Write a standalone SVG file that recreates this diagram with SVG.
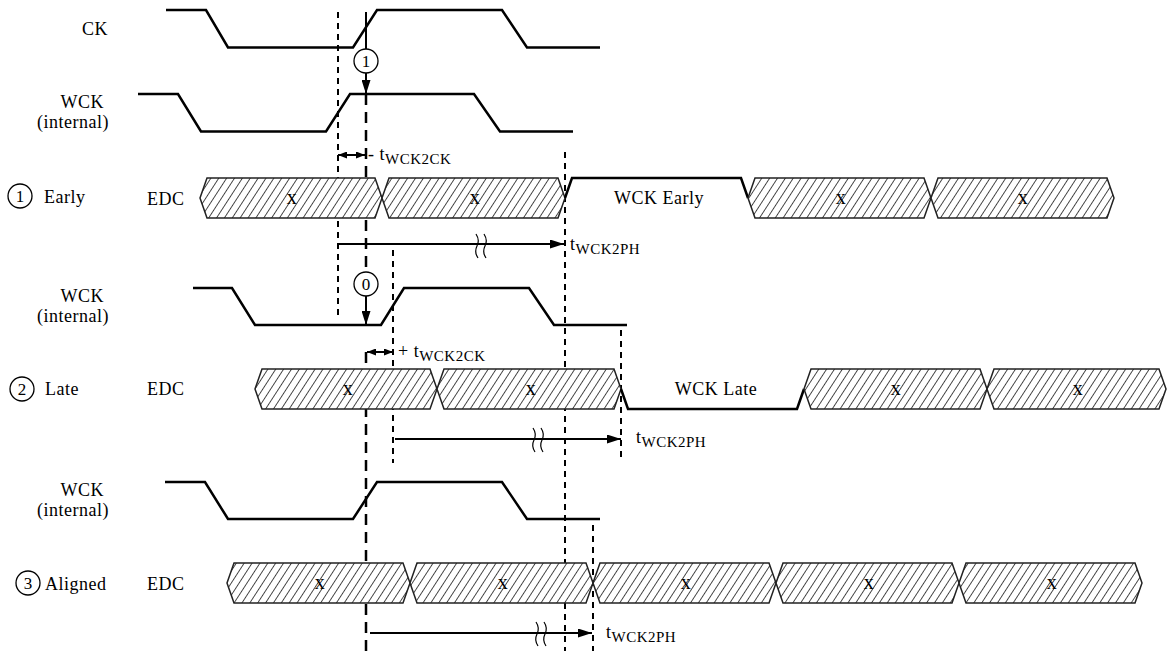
<svg xmlns="http://www.w3.org/2000/svg" width="1167" height="651" viewBox="0 0 1167 651">
<defs>
<pattern id="hatch" patternUnits="userSpaceOnUse" width="6.6" height="7" patternTransform="rotate(33)">
<rect width="6.6" height="7" fill="#fff"/>
<line x1="3.3" y1="-1" x2="3.3" y2="8" stroke="#333" stroke-width="0.9"/>
</pattern>
<marker id="ah" markerUnits="userSpaceOnUse" markerWidth="14" markerHeight="9" refX="14" refY="4.5" orient="auto">
<path d="M0,0 L14,4.5 L0,9 z" fill="#000"/>
</marker>
<marker id="sh" markerUnits="userSpaceOnUse" markerWidth="9" markerHeight="7" refX="9" refY="3.5" orient="auto-start-reverse">
<path d="M0,0 L9,3.5 L0,7 z" fill="#000"/>
</marker>
<style>
.wv{stroke:#000;stroke-width:2.5;fill:none;stroke-linejoin:miter}
.st{stroke:#000;stroke-width:2.5;fill:none}
.bus{fill:url(#hatch);stroke:#222;stroke-width:1.5}
.sd{stroke:#000;stroke-width:2;stroke-dasharray:6 5;fill:none}
.ld{stroke:#000;stroke-width:2.5;stroke-dasharray:11 7;fill:none}
.ar{stroke:#000;stroke-width:2;fill:none}
.sq{stroke:#000;stroke-width:1.2;fill:none}
.cir{fill:#fff;stroke:#000;stroke-width:1.3}
text{font-family:"Liberation Serif","Times New Roman",serif;font-size:18px;letter-spacing:0.5px;fill:#000}
.sub{font-size:15px}
.r{text-anchor:end}
.m{text-anchor:middle}
.n{font-size:17px;letter-spacing:0}
.bx{font-size:20px}
</style>
</defs>

<g id="guides">
<line class="sd" x1="338" y1="12" x2="338" y2="318"/>
<line class="ld" x1="366" y1="94" x2="366" y2="272"/>
<line class="ld" x1="366" y1="352" x2="366" y2="651"/>
<line class="sd" x1="393" y1="250" x2="393" y2="463"/>
<line class="sd" x1="565" y1="152" x2="565" y2="651"/>
<line class="sd" x1="621" y1="330" x2="621" y2="460"/>
<line class="sd" x1="593" y1="525" x2="593" y2="651"/>
</g>

<g id="labels">
<text class="r" x="108" y="35">CK</text>
<text class="r" x="104" y="108">WCK</text>
<text class="r" x="109" y="128">(internal)</text>
<text class="r" x="104" y="302">WCK</text>
<text class="r" x="109" y="322">(internal)</text>
<text class="r" x="104" y="496">WCK</text>
<text class="r" x="109" y="516">(internal)</text>
<g id="row1-label"><circle class="cir" cx="20" cy="196" r="12"/><text class="m n" x="20" y="202">1</text><text x="44" y="203">Early</text></g>
<g id="row2-label"><circle class="cir" cx="22" cy="389" r="12"/><text class="m n" x="22" y="395">2</text><text x="45" y="395">Late</text></g>
<g id="row3-label"><circle class="cir" cx="28" cy="583" r="12"/><text class="m n" x="28" y="589">3</text><text x="45" y="590">Aligned</text></g>
<text x="147" y="205">EDC</text>
<text x="147" y="395">EDC</text>
<text x="147" y="590">EDC</text>
</g>

<g id="ck"><path class="wv" d="M166,10 L206,10 L228,47.5 L353,47.5 L377,10 L502,10 L527,47.5 L600,47.5"/></g>
<g id="wck1"><path class="wv" d="M138,94 L178,94 L201,131.5 L326,131.5 L350,94 L474,94 L500,131.5 L573,131.5"/></g>
<g id="wck2"><path class="wv" d="M193,288 L232,288 L255,325 L381,325 L404,288 L529,288 L554,325 L627,325"/></g>
<g id="wck3"><path class="wv" d="M165,482 L205,482 L228,519 L353,519 L377,482 L502,482 L527,519 L600,519"/></g>

<g id="edc1">
<path class="bus" d="M200,198 L207,178 L375,178 L382,198 L375,218 L207,218 Z"/>
<path class="bus" d="M382,198 L389,178 L558,178 L565,198 L558,218 L389,218 Z"/>
<path class="st" d="M565,198 L572,178 L741,178 L748,198"/>
<path class="bus" d="M748,198 L755,178 L924,178 L931,198 L924,218 L755,218 Z"/>
<path class="bus" d="M931,198 L938,178 L1107,178 L1114,198 L1107,218 L938,218 Z"/>
<text class="m bx" x="292" y="204">x</text>
<text class="m bx" x="475" y="204">x</text>
<text class="m" x="659" y="204">WCK Early</text>
<text class="m bx" x="841" y="204">x</text>
<text class="m bx" x="1023" y="204">x</text>
</g>

<g id="edc2">
<path class="bus" d="M255,389 L262,369 L430,369 L437,389 L430,409 L262,409 Z"/>
<path class="bus" d="M437,389 L444,369 L614,369 L621,389 L614,409 L444,409 Z"/>
<path class="st" d="M621,389 L628,409 L797,409 L804,389"/>
<path class="bus" d="M804,389 L811,369 L980,369 L987,389 L980,409 L811,409 Z"/>
<path class="bus" d="M987,389 L994,369 L1159,369 L1166,389 L1159,409 L994,409 Z"/>
<text class="m bx" x="348" y="395">x</text>
<text class="m bx" x="531" y="395">x</text>
<text class="m" x="716" y="395">WCK Late</text>
<text class="m bx" x="896" y="395">x</text>
<text class="m bx" x="1078" y="395">x</text>
</g>

<g id="edc3">
<path class="bus" d="M227,583 L234,563 L403,563 L410,583 L403,603 L234,603 Z"/>
<path class="bus" d="M410,583 L417,563 L586,563 L593,583 L586,603 L417,603 Z"/>
<path class="bus" d="M593,583 L600,563 L769,563 L776,583 L769,603 L600,603 Z"/>
<path class="bus" d="M776,583 L783,563 L952,563 L959,583 L952,603 L783,603 Z"/>
<path class="bus" d="M959,583 L966,563 L1135,563 L1142,583 L1135,603 L966,603 Z"/>
<text class="m bx" x="320" y="589">x</text>
<text class="m bx" x="503" y="589">x</text>
<text class="m bx" x="686" y="589">x</text>
<text class="m bx" x="869" y="589">x</text>
<text class="m bx" x="1052" y="589">x</text>
</g>

<g id="connectors">
<line class="ar" x1="366" y1="12" x2="366" y2="49"/>
<line class="ar" x1="366" y1="73" x2="366" y2="94" marker-end="url(#ah)"/>
<line class="ar" x1="366" y1="296" x2="366" y2="325" marker-end="url(#ah)"/>
<line class="ar" x1="338" y1="155" x2="365" y2="155" marker-start="url(#sh)" marker-end="url(#sh)"/>
<line class="ar" x1="367" y1="352" x2="393" y2="352" marker-start="url(#sh)" marker-end="url(#sh)"/>
<line class="ar" x1="338" y1="244" x2="564" y2="244" marker-end="url(#ah)"/>
<line class="ar" x1="395" y1="439" x2="621" y2="439" marker-end="url(#ah)"/>
<line class="ar" x1="370" y1="633" x2="592" y2="633" marker-end="url(#ah)"/>
<path class="sq" d="M476,234 Q480,240 477,246 Q474,252 478,258 M484,234 Q488,240 485,246 Q482,252 486,258"/>
<path class="sq" d="M533,428 Q537,434 534,440 Q531,446 535,452 M541,428 Q545,434 542,440 Q539,446 543,452"/>
<path class="sq" d="M536,622 Q540,628 537,634 Q534,640 538,646 M544,622 Q548,628 545,634 Q542,640 546,646"/>
</g>

<g id="markers">
<g id="c1"><circle class="cir" cx="366" cy="61" r="12"/><text class="m n" x="366" y="67">1</text></g>
<g id="c0"><circle class="cir" cx="366" cy="284" r="12"/><text class="m n" x="366" y="290">0</text></g>
</g>

<g id="timing-labels">
<text x="368" y="160">- t<tspan class="sub" dy="4">WCK2CK</tspan></text>
<text x="398" y="357">+ t<tspan class="sub" dy="4">WCK2CK</tspan></text>
<text x="570" y="250">t<tspan class="sub" dy="4">WCK2PH</tspan></text>
<text x="636" y="443">t<tspan class="sub" dy="4">WCK2PH</tspan></text>
<text x="606" y="638">t<tspan class="sub" dy="4">WCK2PH</tspan></text>
</g>
</svg>
